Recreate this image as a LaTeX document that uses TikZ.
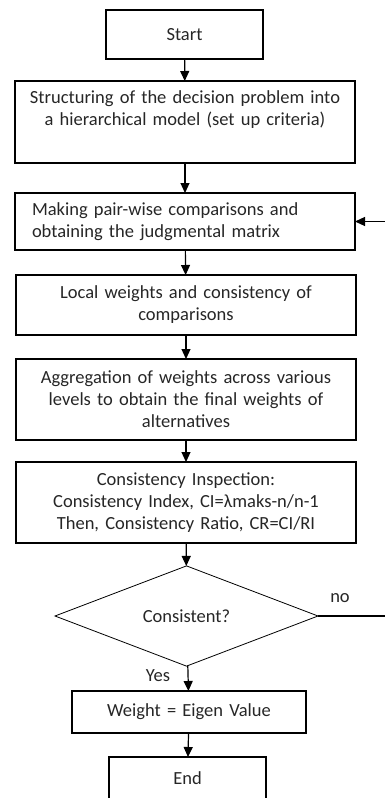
\documentclass[tikz,border=0pt]{standalone}
\usepackage{fontspec}
\setmainfont{Carlito}
\usetikzlibrary{shapes.geometric,arrows.meta}
\begin{document}
\begin{tikzpicture}[x=1pt,y=-1pt,
    font=\fontsize{18.5}{22}\selectfont, text=black!85,
    box/.style={draw, line width=1.2pt, inner xsep=10pt, inner ysep=0pt, outer sep=0pt, align=center, text width=#1},
    decision/.style={diamond, draw, line width=0.8pt, inner sep=0pt, outer sep=0pt, minimum width=263pt, minimum height=100pt},
    arrow/.style={line width=1.2pt, -{Triangle[length=10pt,width=9pt]}}]
\useasboundingbox (0,0) rectangle (385,798);
\node[box=137pt, minimum height=49pt] (start) at (184.5,34.5) {Start};
\node[box=320pt, minimum height=82pt] (struct) at (185,122) {Structuring of the decision problem into\\ a hierarchical model (set up criteria)\\ \strut};
\node[box=306pt, minimum height=57pt, inner xsep=17pt, align=left] (pair) at (185,221.5) {Making pair-wise comparisons and\\ obtaining the judgmental matrix};
\node[box=320pt, minimum height=60pt] (local) at (186,305) {Local weights and consistency of\\ comparisons};
\node[box=320pt, minimum height=81pt] (aggr) at (186,399.5) {Aggregation of weights across various\\ levels to obtain the final weights of\\ alternatives};
\node[box=320pt, minimum height=81pt] (insp) at (186,502.5) {Consistency Inspection:\\ Consistency Index, CI=λmaks-n/n-1\\ Then, Consistency Ratio, CR=CI/RI};
\node[decision] (dec) at (186.5,616) {Consistent?};
\node[box=214pt, minimum height=42pt] (weight) at (189,712) {Weight = Eigen Value};
\node[box=137pt, minimum height=42pt] (end) at (187.5,778) {End};
\node (no) at (340,598) {no};
\node (yes) at (158,676) {Yes};
\draw[arrow] (start) -- (struct);
\draw[arrow] (struct) -- (pair);
\draw[arrow] (pair) -- (local);
\draw[arrow] (local) -- (aggr);
\draw[arrow] (aggr) -- (insp);
\draw[arrow] (insp) -- (dec);
\draw[arrow] (dec) -- (weight);
\draw[arrow] (weight) -- (end);
\draw[arrow] (dec.east) -- ++(90,0) |- (pair.east);
\end{tikzpicture}
\end{document}
